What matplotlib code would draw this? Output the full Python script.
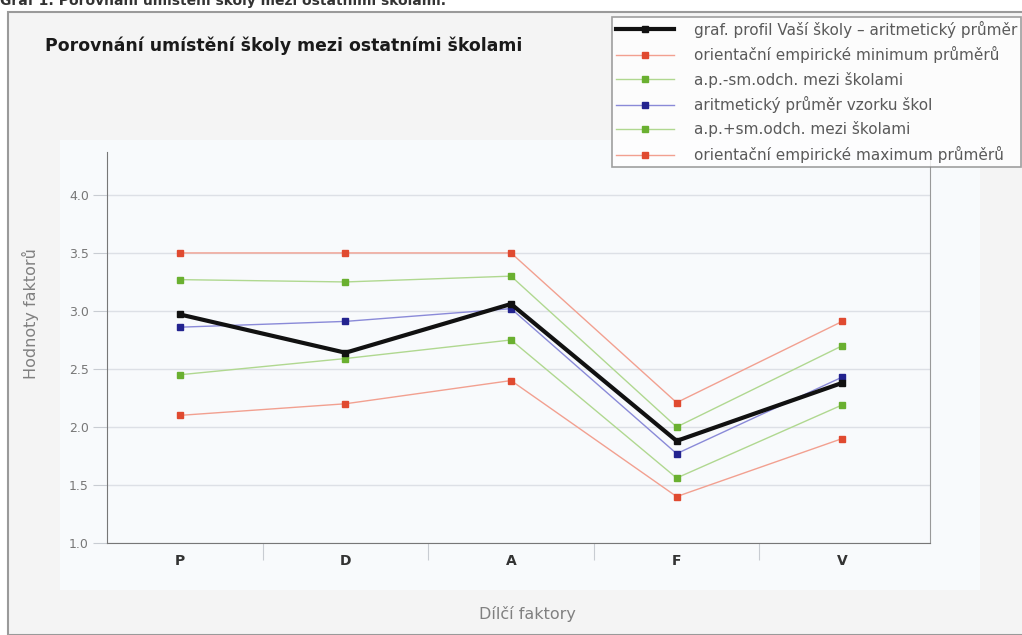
import matplotlib.pyplot as plt
from matplotlib.patches import Rectangle

factors = ['P', 'D', 'A', 'F', 'V']

school = [2.97, 2.64, 3.06, 1.88, 2.38]
emp_min = [2.10, 2.20, 2.40, 1.40, 1.90]
ap_minus_sd = [2.45, 2.59, 2.75, 1.56, 2.19]
sample_mean = [2.86, 2.91, 3.02, 1.77, 2.43]
ap_plus_sd = [3.27, 3.25, 3.30, 2.00, 2.70]
emp_max = [3.50, 3.50, 3.50, 2.21, 2.91]

labels = ['graf. profil Vaší školy – aritmetický průměr',
          'orientační empirické minimum průměrů',
          'a.p.-sm.odch. mezi školami',
          'aritmetický průměr vzorku škol',
          'a.p.+sm.odch. mezi školami',
          'orientační empirické maximum průměrů']

W, H = 1022, 635
fig = plt.figure(figsize=(W / 100, H / 100), dpi=100)
fig.patch.set_facecolor('white')

# outer chart box and inner lighter panel
fig.patches.append(Rectangle((8 / W, 0), 1.2, 1 - 12 / H, transform=fig.transFigure,
                             facecolor='#f4f4f4', edgecolor='#9a9a9a', lw=1.5, zorder=-2))
fig.patches.append(Rectangle((60 / W, 1 - 590 / H), 920 / W, 450 / H, transform=fig.transFigure,
                             facecolor='#f8fafc', edgecolor='none', zorder=-1))

fig.text(0.0, 1 - 1 / H, 'Graf 1: Porovnání umístění školy mezi ostatními školami.',
         fontsize=10, fontweight='bold', color='#333333', va='center', ha='left')
fig.text(45 / W, 1 - 46 / H, 'Porovnání umístění školy mezi ostatními školami',
         fontsize=12.4, fontweight='bold', color='#1a1a1a', va='center', ha='left')

ax = fig.add_axes([107 / W, 1 - 543 / H, (930 - 107) / W, (543 - 152) / H])
ax.set_zorder(2)
ax.set_facecolor('#f8fafc')

x = list(range(len(factors)))
red_l, red_m = '#f2a090', '#e04a30'
grn_l, grn_m = '#b0d890', '#6ab030'
blu_l, blu_m = '#8a8ad8', '#23238f'

h0, = ax.plot(x, school, color='#111111', lw=3, marker='s', ms=5, zorder=5)
h1, = ax.plot(x, emp_min, color=red_l, lw=1, marker='s', ms=5, mfc=red_m, mec=red_m, zorder=3)
h2, = ax.plot(x, ap_minus_sd, color=grn_l, lw=1, marker='s', ms=5, mfc=grn_m, mec=grn_m, zorder=3)
h3, = ax.plot(x, sample_mean, color=blu_l, lw=1, marker='s', ms=5, mfc=blu_m, mec=blu_m, zorder=4)
h4, = ax.plot(x, ap_plus_sd, color=grn_l, lw=1, marker='s', ms=5, mfc=grn_m, mec=grn_m, zorder=3)
h5, = ax.plot(x, emp_max, color=red_l, lw=1, marker='s', ms=5, mfc=red_m, mec=red_m, zorder=3)

ax.set_xlim(-0.44, 4.53)
ax.set_ylim(1.0, 4.37)
ax.set_yticks([1.0, 1.5, 2.0, 2.5, 3.0, 3.5, 4.0])
ax.set_yticklabels(['1.0', '1.5', '2.0', '2.5', '3.0', '3.5', '4.0'])
ax.tick_params(axis='y', colors='#c8ccd2', labelsize=9, length=10, pad=3,
               labelcolor='#777777')
ax.grid(axis='y', color='#dde0e6', lw=1)
ax.set_axisbelow(True)

ax.set_xticks([0.5, 1.5, 2.5, 3.5])
ax.set_xticklabels([])
ax.set_xticks(x, minor=True)
ax.set_xticklabels(factors, minor=True, fontweight='bold', fontsize=10, color='#333333')
ax.tick_params(axis='x', which='major', length=12, colors='#c8ccd2')
ax.tick_params(axis='x', which='minor', length=0, pad=8)

ax.spines['top'].set_visible(False)
ax.spines['left'].set_color('#777777')
ax.spines['bottom'].set_color('#777777')
ax.spines['right'].set_color('#999999')

fig.text(30 / W, 1 - 314 / H, 'Hodnoty faktorů', rotation=90, fontsize=11.5,
         color='#808080', va='center', ha='center')
fig.text(527 / W, 1 - 614 / H, 'Dílčí faktory', fontsize=11.5, color='#808080',
         va='center', ha='center')

leg = fig.legend([h0, h1, h2, h3, h4, h5], labels, loc='upper left',
                 bbox_to_anchor=(612 / W, 1 - 17 / H), borderaxespad=0, fontsize=11,
                 handlelength=3.8, labelspacing=0.55, frameon=True, fancybox=False,
                 borderpad=0.25, handletextpad=1.3)
leg.set_zorder(5)
leg.get_frame().set_edgecolor('#888888')
leg.get_frame().set_facecolor('white')
leg.get_frame().set_linewidth(1.2)
for t in leg.get_texts():
    t.set_color('#5a5a5a')

plt.savefig('out.png', dpi=100)
